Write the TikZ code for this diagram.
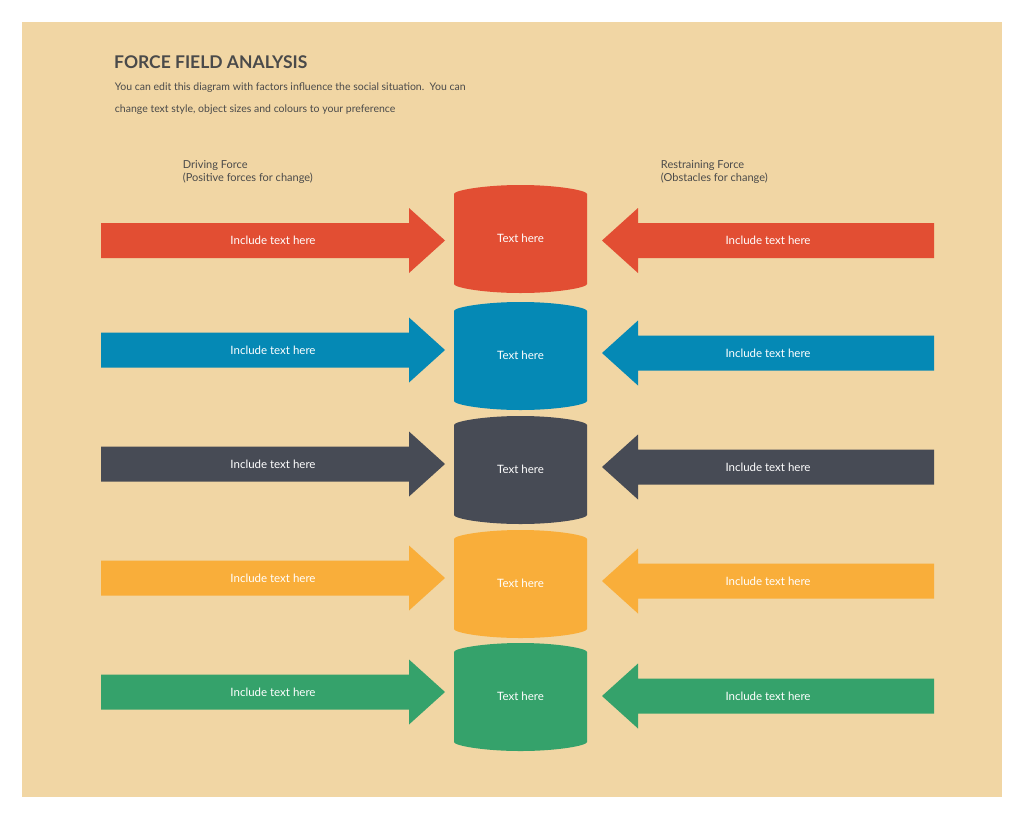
\documentclass[tikz,border=0pt]{standalone}
\usepackage{fontspec}
\setmainfont{Lato}
\usetikzlibrary{positioning}
\definecolor{bgpaper}{HTML}{F1D6A4}
\definecolor{cred}{HTML}{E24E33}
\definecolor{cblue}{HTML}{0589B5}
\definecolor{cdark}{HTML}{474B55}
\definecolor{corange}{HTML}{F9AE3A}
\definecolor{cgreen}{HTML}{35A26B}
\definecolor{ctitle}{HTML}{4A4A4A}
\tikzset{
  label text/.style={inner sep=0.75pt, text=white, font=\fontsize{11.5}{14}\selectfont},
  head text/.style={inner sep=0.75pt, anchor=north west, text=ctitle, font=\fontsize{11}{14}\selectfont, align=left}
}

\begin{document}
\begin{tikzpicture}[x=1pt,y=-1pt]
\useasboundingbox (0,0) rectangle (1024,819);
\fill[white] (0,0) rectangle (1024,819);
%Background panel
\fill[bgpaper] (22,22) rectangle (1002,797);

% Title Node
\node (title) [anchor=north west, inner sep=0pt, text=ctitle, font=\bfseries\fontsize{17.5}{20}\selectfont] at (114,56) {FORCE FIELD ANALYSIS};
% Text Node
\node (intro) [head text, font=\fontsize{10.5}{22}\selectfont] at (114,82) {You can edit this diagram with factors influence the social situation.\ \ You can\\change text style, object sizes and colours to your preference};
% Text Node
\node (driving) [head text] at (182,160) {Driving Force\\[-1pt](Positive forces for change)};
% Text Node
\node (restraining) [head text] at (660,160) {Restraining Force\\[-1pt](Obstacles for change)};

%Rows: colour / cylinder top / left arrow centre / right arrow centre / cylinder text centre
\foreach \col/\top/\ly/\ry/\cy [count=\i] in {cred/185/240.5/240.5/238, cblue/302/350/353/355, cdark/416/464/467/469, corange/530/578/581/583, cgreen/643/692/696/696}{
  %Cylinder
  \fill[\col, rounded corners=3pt] (454,\top+12) arc (180:360:66.5 and 12) -- (587,\top+96) arc (0:180:66.5 and 12) -- cycle;
  \node (cyl\i) [label text] at (520.5,\cy) {Text here};
  %Driving arrow
  \fill[\col] (101,\ly-17.5) -- (409,\ly-17.5) -- (409,\ly-32.5) -- (445,\ly) -- (409,\ly+32.5) -- (409,\ly+17.5) -- (101,\ly+17.5) -- cycle;
  \node (drive\i) [label text] at (273,\ly) {Include text here};
  %Restraining arrow
  \fill[\col] (934,\ry-17.5) -- (638,\ry-17.5) -- (638,\ry-32.5) -- (602,\ry) -- (638,\ry+32.5) -- (638,\ry+17.5) -- (934,\ry+17.5) -- cycle;
  \node (restrain\i) [label text] at (768,\ry) {Include text here};
}

\end{tikzpicture}
\end{document}
